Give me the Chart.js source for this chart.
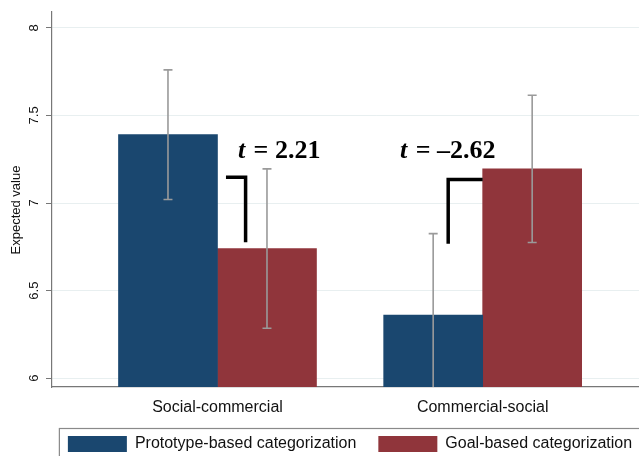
<!DOCTYPE html>
<html>
<head>
<meta charset="utf-8">
<script src="https://cdn.jsdelivr.net/npm/chart.js@4.4.1/dist/chart.umd.min.js"></script>
<style>
  html, body { margin: 0; padding: 0; background: #ffffff; overflow: hidden; }
  #wrap { width: 700px; height: 480px; }
</style>
</head>
<body>
<div id="wrap"><canvas id="chart" width="700" height="480"></canvas></div>
<script>
// Categories and series
const categories = ['Social-commercial', 'Commercial-social'];
const seriesNames = ['Prototype-based categorization', 'Goal-based categorization'];
const prototypeMeans = [7.39, 6.36];
const prototypeHalfCI = [0.37, 0.465];
const goalMeans = [6.74, 7.195];
const goalHalfCI = [0.455, 0.42];
const tStats = [2.21, -2.62];
const yTicks = [6, 6.5, 7, 7.5, 8];

const SANS = '"Liberation Sans", Arial, Helvetica, sans-serif';
const SERIF = '"Liberation Serif", "Times New Roman", serif';
const NAVY = '#1a476f';
const MAROON = '#90353b';

// Bracket + t-statistic placement, in data units (x: category index 1..n)
const annotations = [
  { text: { x: 1.077, y: 7.254 }, bracket: [[1.032, 7.147], [1.106, 7.147], [1.106, 6.776]] },
  { text: { x: 1.688, y: 7.254 }, bracket: [[2.0, 7.134], [1.870, 7.134], [1.870, 6.767]] }
];

function points(means) {
  return means.map((v, i) => ({ x: i + 1, y: v }));
}

function fmtT(v) {
  const s = Math.abs(v).toFixed(2);
  return v < 0 ? '\u2013' + s : s;
}

// Confidence interval whiskers drawn over the bars
const errorBars = {
  id: 'errorBars',
  afterDatasetsDraw(chart) {
    const { ctx, chartArea, scales } = chart;
    const halves = [prototypeHalfCI, goalHalfCI];
    ctx.save();
    ctx.beginPath();
    ctx.rect(chartArea.left, chartArea.top, chartArea.right - chartArea.left, chartArea.bottom - chartArea.top);
    ctx.clip();
    ctx.strokeStyle = '#9a9a9a';
    ctx.lineWidth = 1.6;
    chart.data.datasets.forEach((ds, di) => {
      const meta = chart.getDatasetMeta(di);
      meta.data.forEach((bar, i) => {
        const v = ds.data[i].y;
        const h = halves[di][i];
        const yTop = scales.y.getPixelForValue(v + h);
        const yBot = scales.y.getPixelForValue(v - h);
        const x = bar.x;
        ctx.beginPath();
        ctx.moveTo(x, yTop); ctx.lineTo(x, yBot);
        ctx.moveTo(x - 4.5, yTop); ctx.lineTo(x + 4.5, yTop);
        ctx.moveTo(x - 4.5, yBot); ctx.lineTo(x + 4.5, yBot);
        ctx.stroke();
      });
    });
    ctx.restore();
  }
};

// t-statistic labels, brackets, y-axis title and legend frame
const extras = {
  id: 'extras',
  afterDraw(chart) {
    const { ctx, scales } = chart;
    const xs = scales.x, ys = scales.y;
    ctx.save();

    annotations.forEach((a, i) => {
      // bracket
      ctx.strokeStyle = '#000';
      ctx.lineWidth = 3.5;
      ctx.lineJoin = 'miter';
      ctx.lineCap = 'butt';
      ctx.beginPath();
      a.bracket.forEach((p, k) => {
        const px = xs.getPixelForValue(p[0]);
        const py = ys.getPixelForValue(p[1]);
        if (k === 0) ctx.moveTo(px, py); else ctx.lineTo(px, py);
      });
      ctx.stroke();

      // label: italic t, then "= value"
      let x = xs.getPixelForValue(a.text.x);
      const y = ys.getPixelForValue(a.text.y);
      ctx.fillStyle = '#000';
      ctx.textBaseline = 'alphabetic';
      ctx.textAlign = 'left';
      ctx.font = 'italic bold 26px ' + SERIF;
      ctx.fillText('t', x, y);
      x += ctx.measureText('t').width;
      ctx.font = 'bold 26px ' + SERIF;
      const rest = ' = ' + fmtT(tStats[i]);
      ctx.fillText(rest, x + 2, y);
    });

    // y-axis title
    ctx.save();
    ctx.translate(16, 210);
    ctx.rotate(-Math.PI / 2);
    ctx.fillStyle = '#111';
    ctx.font = '13px ' + SANS;
    ctx.textAlign = 'center';
    ctx.textBaseline = 'middle';
    ctx.fillText('Expected value', 0, 0);
    ctx.restore();

    // legend frame
    const boxes = chart.legend && chart.legend.legendHitBoxes;
    if (boxes && boxes.length) {
      const left = boxes[0].left - 9;
      const top = boxes[0].top - 8;
      const right = chart.width - left;
      ctx.strokeStyle = '#8a8a8a';
      ctx.lineWidth = 1.2;
      ctx.strokeRect(left + 0.5, top + 0.5, right - left, chart.height);
    }
    ctx.restore();
  }
};

const chart = new Chart(document.getElementById('chart'), {
  type: 'bar',
  data: {
    datasets: [
      { label: seriesNames[0], data: points(prototypeMeans), backgroundColor: NAVY, borderWidth: 0 },
      { label: seriesNames[1], data: points(goalMeans), backgroundColor: MAROON, borderWidth: 0 }
    ]
  },
  options: {
    responsive: false,
    animation: false,
    devicePixelRatio: 1,
    barThickness: 99,
    layout: { padding: { top: 12, right: 0, bottom: 18, left: 0 } },
    plugins: {
      tooltip: { enabled: false },
      legend: {
        position: 'bottom',
        labels: {
          boxWidth: 59,
          boxHeight: 16,
          padding: 22,
          color: '#111',
          font: { family: SANS, size: 16 }
        }
      }
    },
    scales: {
      x: {
        type: 'linear',
        min: 0.376,
        max: 2.8195,
        offset: false,
        afterBuildTicks(scale) { scale.ticks = categories.map((c, i) => ({ value: i + 1 })); },
        afterFit(scale) { scale.height = 27; },
        ticks: {
          autoSkip: false,
          maxRotation: 0,
          padding: 11,
          color: '#111',
          font: { family: SANS, size: 16 },
          callback: (v) => categories[Math.round(v) - 1]
        },
        grid: { display: false, drawTicks: false },
        border: { display: true, color: '#777', width: 1.2 }
      },
      y: {
        min: 5.95,
        max: 8.09,
        afterBuildTicks(scale) { scale.ticks = yTicks.map(v => ({ value: v })); },
        afterFit(scale) { scale.width = 52; },
        ticks: {
          minRotation: 90,
          maxRotation: 90,
          crossAlign: 'center',
          padding: 3,
          color: '#111',
          font: { family: SANS, size: 13 },
          callback: (v) => String(v)
        },
        grid: { color: '#e8eff0', tickColor: '#777', tickLength: 6, lineWidth: 1 },
        border: { display: true, color: '#777', width: 1.2 }
      }
    }
  },
  plugins: [errorBars, extras]
});
</script>
</body>
</html>
